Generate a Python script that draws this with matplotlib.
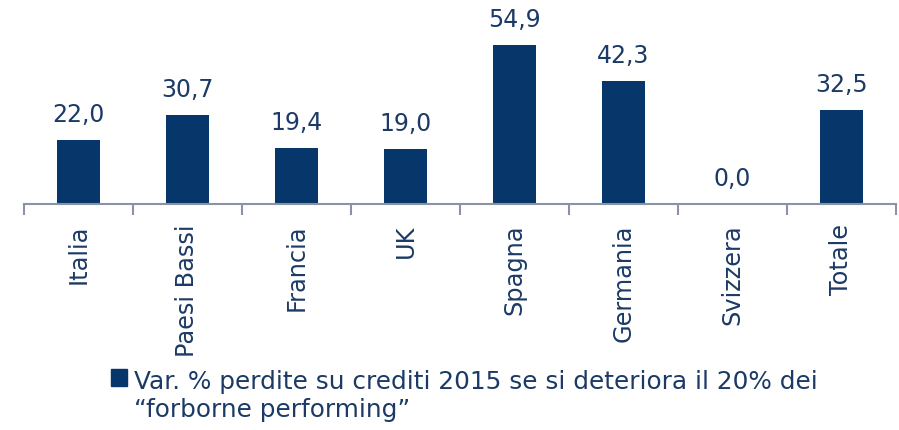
import matplotlib.pyplot as plt
from matplotlib.patches import Patch

plt.rcParams['font.family'] = ['DejaVu Sans']

paesi = ["Italia", "Paesi Bassi", "Francia", "UK", "Spagna", "Germania", "Svizzera", "Totale"]
valori = [22.0, 30.7, 19.4, 19.0, 54.9, 42.3, 0.0, 32.5]
legenda = "Var. % perdite su crediti 2015 se si deteriora il 20% dei\n\u201cforborne performing\u201d"

blu = "#06366a"
testo = "#1c3a66"
grigio = "#8a93a6"

fig = plt.figure(figsize=(8.99, 4.31), dpi=100)
ax = fig.add_axes([24 / 899, 1 - 205 / 431, 872 / 899, 203 / 431])

x = list(range(len(paesi)))
bars = ax.bar(x, valori, width=0.4, color=blu)
for xi, v in zip(x, valori):
    ax.annotate(f"{v:.1f}".replace(".", ","), (xi, v), xytext=(0, 10),
                textcoords="offset points", ha="center", va="bottom",
                fontsize=17, color=testo)

ax.set_xlim(-0.5, len(paesi) - 0.5)
ax.set_ylim(0, 70)
for s in ["top", "right", "left"]:
    ax.spines[s].set_visible(False)
ax.spines["bottom"].set_color(grigio)
ax.spines["bottom"].set_linewidth(1.5)
ax.set_yticks([])
ax.set_xticks([i - 0.5 for i in range(len(paesi) + 1)], minor=False)
ax.set_xticklabels([])
ax.tick_params(axis="x", which="major", length=8, width=1.5, color=grigio, direction="out")
ax.set_xticks(x, minor=True)
ax.set_xticklabels(paesi, minor=True, rotation=90, fontsize=17.3, color=testo)
ax.tick_params(axis="x", which="minor", length=0, pad=14)

leg = fig.legend(handles=[Patch(color=blu)], labels=[legenda], loc="upper left",
                 bbox_to_anchor=(111 / 899, 1 - 370 / 431), frameon=False, fontsize=17.8,
                 labelcolor=testo, handlelength=0.65, handleheight=0.65, handletextpad=0.3,
                 borderpad=0, borderaxespad=0, labelspacing=0)
# handle on the first line, like the original
for col in leg._legend_handle_box.get_children():
    for riga in col.get_children():
        riga.align = "top"
for t in leg.get_texts():
    t.set_linespacing(1.2)

fig.savefig("out.png", dpi=100)
